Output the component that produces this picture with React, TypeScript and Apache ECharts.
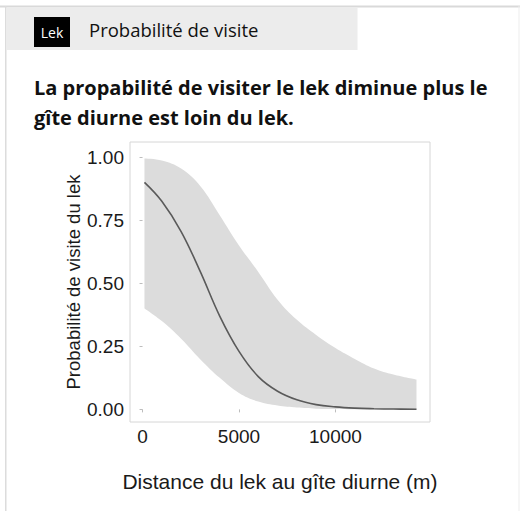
import React, { useEffect, useRef } from "react";
import * as echarts from "echarts";

const distances = [100, 1000, 2000, 3000, 4000, 5000, 6000, 7000, 8000, 9000, 10000, 11000, 12000, 13000, 14200];
const meanProb = [0.9, 0.825, 0.705, 0.545, 0.37, 0.23, 0.13, 0.072, 0.038, 0.019, 0.01, 0.005, 0.0026, 0.0013, 0.0005];
const lowerProb = [0.4, 0.35, 0.28, 0.198, 0.125, 0.065, 0.031, 0.015, 0.007, 0.003, 0.0015, 0.0007, 0.0003, 0.0001, 0.0];
const upperProb = [0.995, 0.987, 0.955, 0.885, 0.77, 0.65, 0.545, 0.435, 0.355, 0.295, 0.243, 0.2, 0.162, 0.138, 0.118];

const xTicks = [0, 5000, 10000];
const yTicks = [0, 0.25, 0.5, 0.75, 1.0];

const headerTag = "Lek";
const headerTitle = "Probabilité de visite";
const titleLine1 = "La propabilité de visiter le lek diminue plus le";
const titleLine2 = "gîte diurne est loin du lek.";
const xName = "Distance du lek au gîte diurne (m)";
const yName = "Probabilité de visite du lek";

export default function App() {
  const ref = useRef<HTMLDivElement>(null);
  useEffect(() => {
    if (!ref.current) return;
    const chart = echarts.init(ref.current, null, { renderer: "svg" });
    const sans = "'Open Sans', 'Noto Sans', sans-serif";
    const arial = "'Liberation Sans', Arial, sans-serif";
    chart.setOption({
      animation: false,
      backgroundColor: "#ffffff",
      grid: {
        left: 130,
        top: 142,
        right: 90,
        bottom: 89,
        show: true,
        borderColor: "#d6d6d6",
        borderWidth: 1,
        backgroundColor: "transparent",
      },
      xAxis: {
        type: "value",
        min: -650,
        max: 14900,
        name: xName,
        nameLocation: "middle",
        nameGap: 49,
        nameTextStyle: { fontFamily: arial, fontSize: 21, color: "#1a1a1a" },
        axisLine: { show: false },
        splitLine: { show: false },
        axisTick: { show: true, customValues: xTicks, length: 3, lineStyle: { color: "#bdbdbd" } },
        axisLabel: {
          customValues: xTicks,
          margin: 5,
          fontFamily: arial,
          fontSize: 19,
          color: "#1a1a1a",
          formatter: (v: number) => String(v),
        },
      },
      yAxis: {
        type: "value",
        min: -0.05,
        max: 1.06,
        name: yName,
        nameLocation: "middle",
        nameGap: 47,
        nameMoveOverlap: false,
        nameTextStyle: { fontFamily: arial, fontSize: 18.5, color: "#1a1a1a" },
        axisLine: { show: false },
        splitLine: { show: false },
        axisTick: { show: true, customValues: yTicks, length: 3, lineStyle: { color: "#bdbdbd" } },
        axisLabel: {
          customValues: yTicks,
          margin: 6,
          fontFamily: arial,
          fontSize: 19,
          color: "#1a1a1a",
          formatter: (v: number) => v.toFixed(2),
        },
      },
      series: [
        {
          type: "line",
          stack: "band",
          data: distances.map((d, i) => [lowerProb[i], d]),
          encode: { x: 1, y: 0 },
          symbol: "none",
          smooth: 0.4,
          lineStyle: { opacity: 0 },
          silent: true,
        },
        {
          type: "line",
          stack: "band",
          data: distances.map((d, i) => [upperProb[i] - lowerProb[i], d]),
          encode: { x: 1, y: 0 },
          symbol: "none",
          smooth: 0.4,
          lineStyle: { opacity: 0 },
          areaStyle: { color: "#dcdcdc", opacity: 1 },
          silent: true,
        },
        {
          type: "line",
          data: distances.map((d, i) => [d, meanProb[i]]),
          symbol: "none",
          smooth: 0.4,
          lineStyle: { color: "#5a5a5a", width: 1.6 },
          silent: true,
        },
      ],
      graphic: [
        { type: "rect", shape: { x: 0, y: 5.5, width: 520, height: 2 }, style: { fill: "#d9d9d9" }, silent: true },
        { type: "rect", shape: { x: 5, y: 6, width: 1.5, height: 505 }, style: { fill: "#dcdcdc" }, silent: true },
        { type: "rect", shape: { x: 518.5, y: 6, width: 1, height: 505 }, style: { fill: "#eeeeee" }, silent: true },
        { type: "rect", shape: { x: 6.5, y: 7.5, width: 351, height: 42.5 }, style: { fill: "#ececec" }, silent: true },
        { type: "rect", shape: { x: 34, y: 17, width: 36, height: 30 }, style: { fill: "#000000" }, silent: true },
        {
          type: "text",
          x: 52,
          y: 32.5,
          style: { text: headerTag, fill: "#ffffff", fontFamily: sans, fontSize: 14, align: "center", verticalAlign: "middle" },
          silent: true,
        },
        {
          type: "text",
          x: 89,
          y: 29.5,
          style: { text: headerTitle, fill: "#111111", fontFamily: sans, fontSize: 18.5, align: "left", verticalAlign: "middle" },
          silent: true,
        },
        {
          type: "text",
          x: 34,
          y: 87,
          style: { text: titleLine1, fill: "#111111", fontFamily: sans, fontWeight: "bold", fontSize: 20, align: "left", verticalAlign: "middle" },
          silent: true,
        },
        {
          type: "text",
          x: 34,
          y: 117,
          style: { text: titleLine2, fill: "#111111", fontFamily: sans, fontWeight: "bold", fontSize: 20, align: "left", verticalAlign: "middle" },
          silent: true,
        },
      ],
    });
    return () => chart.dispose();
  }, []);
  return <div ref={ref} style={{ position: "absolute", left: 0, top: 0, width: 520, height: 511 }} />;
}
